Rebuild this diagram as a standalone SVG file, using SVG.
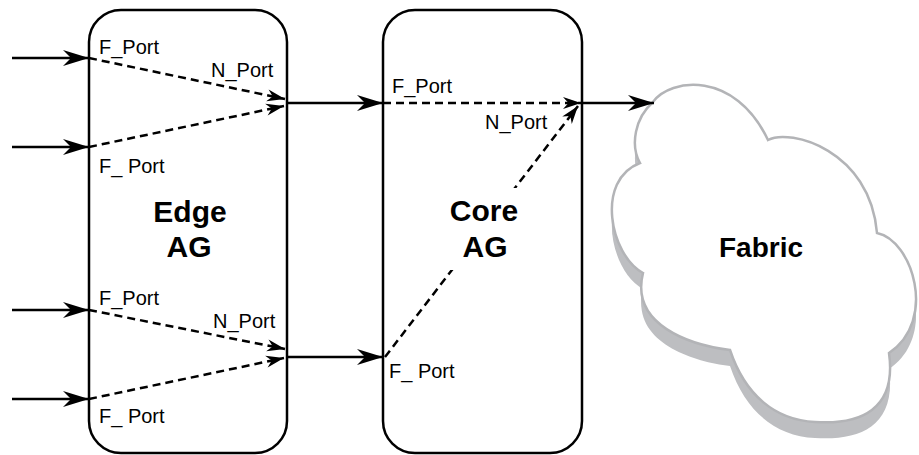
<svg xmlns="http://www.w3.org/2000/svg" xmlns:xlink="http://www.w3.org/1999/xlink" width="919" height="455" viewBox="0 0 919 455">
<style>
.box{fill:#fff;stroke:#000;stroke-width:2.5}
.solid{fill:none;stroke:#000;stroke-width:2.5}
.dash{fill:none;stroke:#000;stroke-width:2.5;stroke-dasharray:8 5}
.lbl{font-family:"Liberation Sans",Arial,Helvetica,sans-serif;font-size:20px;fill:#000}
.big{font-family:"Liberation Sans",Arial,Helvetica,sans-serif;font-size:30px;font-weight:bold;fill:#000;text-anchor:middle}
.shadow{fill:#bdbec1;stroke:none}
.cloud{fill:#fff;stroke:#b3b4b7;stroke-width:2.5}
</style>
<defs>
<marker id="ah" markerUnits="userSpaceOnUse" markerWidth="26" markerHeight="16" refX="26" refY="8" orient="auto" overflow="visible">
<path d="M26,8 L0,0 L8,8 L0,16 Z" fill="#000"/>
</marker>
<marker id="ahs" markerUnits="userSpaceOnUse" markerWidth="18" markerHeight="12" refX="18" refY="6" orient="auto" overflow="visible">
<path d="M18,6 L0,0 L5.5,6 L0,12 Z" fill="#000"/>
</marker>
<path id="cloudPath" d="M653,102 C670,78 735,70 768,140 C790,128 870,150 877,233 C912,240 938,320 889,353 C897,410 860,425 815,422 C775,420 745,395 730,350 C690,345 630,325 643,273 C610,255 595,180 640,163 C630,145 635,118 653,102 Z"/>
</defs>

<g id="fabric">
<use xlink:href="#cloudPath" href="#cloudPath" class="shadow" transform="translate(0,4)"/>
<use xlink:href="#cloudPath" href="#cloudPath" class="shadow" transform="translate(0,8)"/>
<use xlink:href="#cloudPath" href="#cloudPath" class="shadow" transform="translate(0,12)"/>
<use xlink:href="#cloudPath" href="#cloudPath" class="shadow" transform="translate(0,16)"/>
<use xlink:href="#cloudPath" href="#cloudPath" class="cloud"/>
<text class="big" x="761" y="257" style="font-size:28px">Fabric</text>
</g>

<g id="edge-ag">
<rect class="box" x="89" y="10" width="198" height="443" rx="32" ry="32"/>
<text class="big" x="190" y="222">Edge</text>
<text class="big" x="189" y="257">AG</text>
</g>

<g id="core-ag">
<rect class="box" x="383" y="10" width="199" height="443" rx="32" ry="32"/>
</g>

<g id="connectors">
<line class="solid" x1="12" y1="58" x2="89" y2="58" marker-end="url(#ah)"/>
<line class="solid" x1="12" y1="147" x2="89" y2="147" marker-end="url(#ah)"/>
<line class="solid" x1="12" y1="310" x2="89" y2="310" marker-end="url(#ah)"/>
<line class="solid" x1="12" y1="399" x2="89" y2="399" marker-end="url(#ah)"/>
<line class="dash" x1="89" y1="58" x2="285" y2="99" marker-end="url(#ahs)"/>
<line class="dash" x1="89" y1="147" x2="284" y2="106" marker-end="url(#ahs)"/>
<line class="dash" x1="89" y1="310" x2="285" y2="349" marker-end="url(#ahs)"/>
<line class="dash" x1="89" y1="399" x2="284" y2="358" marker-end="url(#ahs)"/>
<line class="solid" x1="287" y1="103" x2="383" y2="103" marker-end="url(#ah)"/>
<line class="solid" x1="287" y1="357" x2="383" y2="357" marker-end="url(#ah)"/>
<line class="dash" x1="383" y1="103" x2="581" y2="103" marker-end="url(#ahs)"/>
<line class="dash" x1="385" y1="357" x2="578" y2="106" marker-end="url(#ahs)"/>
<line class="solid" x1="582" y1="103" x2="654" y2="103" marker-end="url(#ah)"/>
</g>

<g id="core-ag-label">
<rect x="444" y="188" width="82" height="82" fill="#fff"/>
<text class="big" x="484" y="221">Core</text>
<text class="big" x="485" y="257">AG</text>
</g>

<g id="labels">
<text class="lbl" x="99" y="54">F_Port</text>
<text class="lbl" x="211" y="77">N_Port</text>
<text class="lbl" x="99" y="173">F_ Port</text>
<text class="lbl" x="99" y="305">F_Port</text>
<text class="lbl" x="213" y="328">N_Port</text>
<text class="lbl" x="99" y="423">F_ Port</text>
<text class="lbl" x="392" y="93">F_Port</text>
<text class="lbl" x="485" y="129">N_Port</text>
<text class="lbl" x="389" y="378">F_ Port</text>
</g>
</svg>
